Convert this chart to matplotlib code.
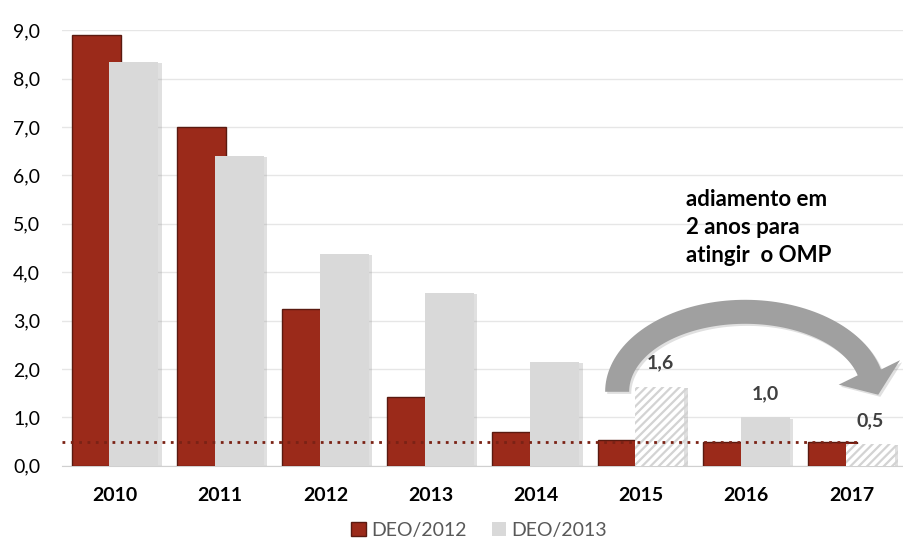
import matplotlib.pyplot as plt
import matplotlib.patheffects as pe
from matplotlib.patches import Polygon, Patch
from matplotlib.transforms import IdentityTransform
import numpy as np

plt.rcParams['font.family'] = ['Lato', 'DejaVu Sans']
plt.rcParams['hatch.linewidth'] = 1.6

# dados (% do PIB)
anos = ['2010', '2011', '2012', '2013', '2014', '2015', '2016', '2017']
deo_2012 = [8.9, 7.0, 3.25, 1.43, 0.70, 0.54, 0.50, 0.50]
deo_2013 = [8.35, 6.4, 4.38, 3.57, 2.15, 1.63, 1.0, 0.45]
hachurado = [False, False, False, False, False, True, False, True]
rotulos = {5: '1,6', 6: '1,0', 7: '0,5'}
omp = 0.5
y_ticks = [0, 1, 2, 3, 4, 5, 6, 7, 8, 9]

vermelho = '#9B2A1A'
cinza = '#D9D9D9'

fig = plt.figure(figsize=(9.04, 5.5), dpi=100)
ax = fig.add_axes([0.069, 0.153, 0.931, 0.792])

x = np.arange(len(anos))
w = 0.465
d = 0.18

ax.bar(x - d, deo_2012, w, color=vermelho, edgecolor='#5A1A10', linewidth=1, zorder=3)
sombra = [pe.SimplePatchShadow(offset=(2.5, -1), shadow_rgbFace='#999999', alpha=0.3), pe.Normal()]
for i, v in enumerate(deo_2013):
    if hachurado[i]:
        b = ax.bar(x[i] + d, v, w, color='white', edgecolor='#D3D3D3', hatch='////',
                   linewidth=0, zorder=4)
    else:
        b = ax.bar(x[i] + d, v, w, color=cinza, linewidth=0, zorder=4)
    b[0].set_path_effects(sombra)

for i, txt in rotulos.items():
    ax.annotate(txt, (x[i] + d, deo_2013[i]), xytext=(0, 11), textcoords='offset points',
                ha='center', va='bottom', fontsize=14, fontweight='bold', color='#404040',
                zorder=6)

ax.plot([-0.5, 7.08], [omp, omp], linestyle=(0, (1, 2)), color='#7A2215', linewidth=2,
        zorder=5)

ax.set_xlim(-0.5, 7.5)
ax.set_ylim(0, 9)

# seta curva (adiamento de 2 anos), desenhada em pixels
cx, cy = ax.transData.transform((5.99, 1.53))
a, b_, h = 128, 80, 12
t_fim = np.radians(14)
th = np.linspace(np.pi, t_fim, 80)
externo = np.c_[cx + (a + h) * np.cos(th), cy + (b_ + h) * np.sin(th)]
interno = np.c_[cx + (a - h) * np.cos(th), cy + (b_ - h) * np.sin(th)][::-1]
P = np.array([cx + a * np.cos(t_fim), cy + b_ * np.sin(t_fim)])
T = np.array([a * np.sin(t_fim), -b_ * np.cos(t_fim)])
T /= np.linalg.norm(T)
N = np.array([b_ * np.cos(t_fim), a * np.sin(t_fim)])
N /= np.linalg.norm(N)
cabeca = np.array([P + N * 33, P + T * 24, P - N * 33])
pts = np.vstack([externo, cabeca, interno])
seta = Polygon(pts, closed=True, transform=IdentityTransform(), facecolor='#A0A0A0',
               edgecolor='none', zorder=7)
seta.set_path_effects([pe.SimplePatchShadow(offset=(1.5, -1.5), alpha=0.15), pe.Normal()])
fig.patches.append(seta)
seta.set_figure(fig)

ax.text(5.43, 5.72, 'adiamento em\n2 anos para\natingir  o OMP', fontsize=16,
        fontweight='bold', color='black', ha='left', va='top', linespacing=1.4, zorder=8)

ax.set_yticks(y_ticks)
ax.set_yticklabels([f'{t:.1f}'.replace('.', ',') for t in y_ticks], fontsize=14)
ax.set_xticks(x)
ax.set_xticklabels(anos, fontsize=14, fontweight='bold')
ax.tick_params(axis='y', length=0, pad=16)
ax.tick_params(axis='x', length=0, pad=15)
ax.grid(axis='y', color='#E6E6E6', linewidth=1, zorder=0)
for s in ['top', 'right', 'left']:
    ax.spines[s].set_visible(False)
ax.spines['bottom'].set_color('#D0D0D0')

handles = [Patch(facecolor=vermelho, edgecolor='#5A1A10', label='DEO/2012'),
           Patch(facecolor=cinza, edgecolor='none', label='DEO/2013')]
fig.legend(handles=handles, loc='lower center', bbox_to_anchor=(0.53, -0.012), ncol=2,
           frameon=False, fontsize=14, labelcolor='#595959', handlelength=0.75,
           handleheight=0.75, handletextpad=0.25, columnspacing=1.3)

fig.savefig('out.png', dpi=100)
